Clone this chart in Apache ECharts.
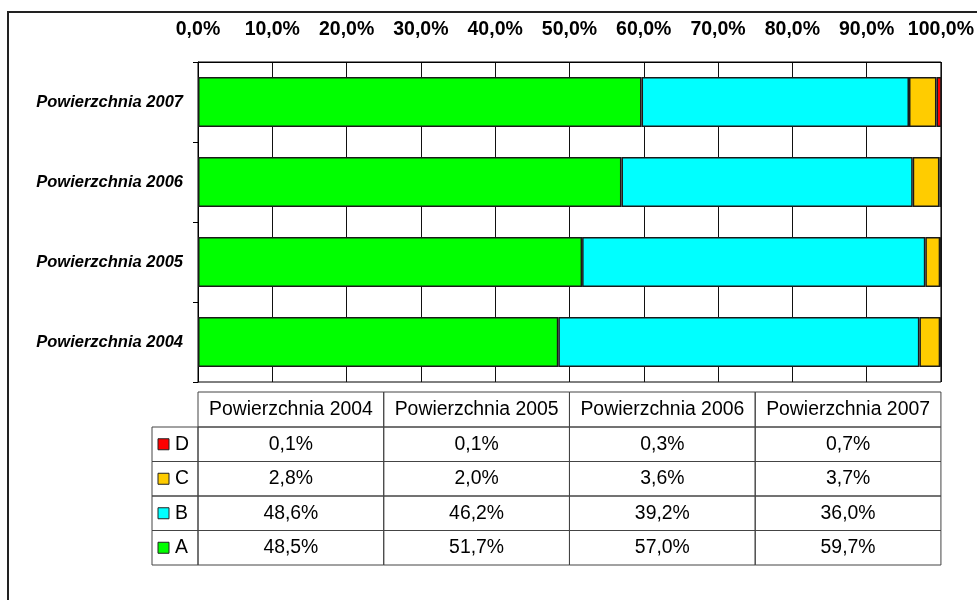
<!DOCTYPE html>
<html>
<head>
<meta charset="utf-8">
<script src="https://cdn.jsdelivr.net/npm/echarts@6/dist/echarts.min.js"></script>
<style>
html, body { margin: 0; padding: 0; background: #fff; }
#chartmain { width: 977px; height: 600px; }
</style>
</head>
<body>
<div id="chartmain"></div>
<script>
// dane
var categories = ['Powierzchnia 2004', 'Powierzchnia 2005', 'Powierzchnia 2006', 'Powierzchnia 2007'];
var seriesNames = ['A', 'B', 'C', 'D'];
var valuesA = [48.5, 51.7, 57.0, 59.7];
var valuesB = [48.6, 46.2, 39.2, 36.0];
var valuesC = [2.8, 2.0, 3.6, 3.7];
var valuesD = [0.1, 0.1, 0.3, 0.7];

var seriesValues = [valuesA, valuesB, valuesC, valuesD];
var colors = ['#00ff00', '#00ffff', '#ffcc00', '#ff0000'];
var fontFam = 'Arial, "Liberation Sans", sans-serif';

function pct(v) {
    return v.toFixed(1).replace('.', ',') + '%';
}

var series = [];
for (var i = 0; i < seriesNames.length; i++) {
    series.push({
        name: seriesNames[i],
        type: 'bar',
        stack: 'total',
        barCategoryGap: '37.5%',
        itemStyle: {
            color: colors[i],
            borderColor: '#1a1a1a',
            borderWidth: 1.5
        },
        emphasis: { disabled: true },
        data: seriesValues[i]
    });
}

var option = {
    animation: false,
    backgroundColor: '#fff',
    grid: {
        left: 198,
        right: 35,
        top: 62,
        bottom: 218,
        show: true,
        borderColor: '#000',
        borderWidth: 1
    },
    xAxis: {
        type: 'value',
        position: 'top',
        min: 0,
        max: 100,
        interval: 10,
        axisLine: { show: true, lineStyle: { color: '#000', width: 1 } },
        axisTick: { show: false },
        splitLine: { show: true, lineStyle: { color: '#111', width: 1 } },
        axisLabel: {
            margin: 22,
            color: '#000',
            fontWeight: 'bold',
            fontSize: 19.5,
            fontFamily: fontFam,
            formatter: function (v) { return pct(v); }
        }
    },
    yAxis: {
        type: 'category',
        data: categories,
        axisLine: { show: true, lineStyle: { color: '#000', width: 1 } },
        axisTick: { show: true, length: 5, lineStyle: { color: '#000' } },
        axisLabel: {
            margin: 15,
            color: '#000',
            fontWeight: 'bold',
            fontStyle: 'italic',
            fontSize: 16.5,
            fontFamily: fontFam
        }
    },
    series: series
};

var myChart = echarts.init(document.getElementById('chartmain'), null, { renderer: 'canvas' });
myChart.setOption(option);

// tabela danych pod wykresem
var plotLeft = myChart.convertToPixel({ xAxisIndex: 0 }, 0);
var plotRight = myChart.convertToPixel({ xAxisIndex: 0 }, 100);
var colW = (plotRight - plotLeft) / categories.length;
var tableTop = 392;
var headH = 35;
var rowH = 34.5;
var labelColLeft = plotLeft - 46;
var lineCol = '#444';
var tableFont = '19.4px ' + fontFam;

var g = [];
// ramka zewnetrzna
g.push({
    type: 'rect', silent: true, z: 0,
    shape: { x: 8, y: 12, width: 1100, height: 800 },
    style: { fill: 'none', stroke: '#222', lineWidth: 2 }
});

// naglowek
for (var c = 0; c < categories.length; c++) {
    var cx = plotLeft + c * colW;
    g.push({
        type: 'rect', silent: true,
        shape: { x: cx, y: tableTop, width: colW, height: headH },
        style: { fill: 'none', stroke: lineCol, lineWidth: 1 }
    });
    g.push({
        type: 'text', silent: true,
        style: {
            x: cx + colW / 2, y: tableTop + headH / 2,
            text: categories[c],
            align: 'center', verticalAlign: 'middle',
            font: tableFont, fill: '#000'
        }
    });
}

// wiersze: D, C, B, A
for (var r = 0; r < seriesNames.length; r++) {
    var si = seriesNames.length - 1 - r;
    var ry = tableTop + headH + r * rowH;
    g.push({
        type: 'rect', silent: true,
        shape: { x: labelColLeft, y: ry, width: plotLeft - labelColLeft, height: rowH },
        style: { fill: 'none', stroke: lineCol, lineWidth: 1 }
    });
    g.push({
        type: 'rect', silent: true,
        shape: { x: labelColLeft + 6, y: ry + rowH / 2 - 5.5, width: 11, height: 11 },
        style: { fill: colors[si], stroke: '#222', lineWidth: 1 }
    });
    g.push({
        type: 'text', silent: true,
        style: {
            x: labelColLeft + 23, y: ry + rowH / 2,
            text: seriesNames[si],
            align: 'left', verticalAlign: 'middle',
            font: tableFont, fill: '#000'
        }
    });
    for (var c2 = 0; c2 < categories.length; c2++) {
        var x2 = plotLeft + c2 * colW;
        g.push({
            type: 'rect', silent: true,
            shape: { x: x2, y: ry, width: colW, height: rowH },
            style: { fill: 'none', stroke: lineCol, lineWidth: 1 }
        });
        g.push({
            type: 'text', silent: true,
            style: {
                x: x2 + colW / 2, y: ry + rowH / 2,
                text: pct(seriesValues[si][c2]),
                align: 'center', verticalAlign: 'middle',
                font: tableFont, fill: '#000'
            }
        });
    }
}

myChart.setOption({ graphic: g });
</script>
</body>
</html>
